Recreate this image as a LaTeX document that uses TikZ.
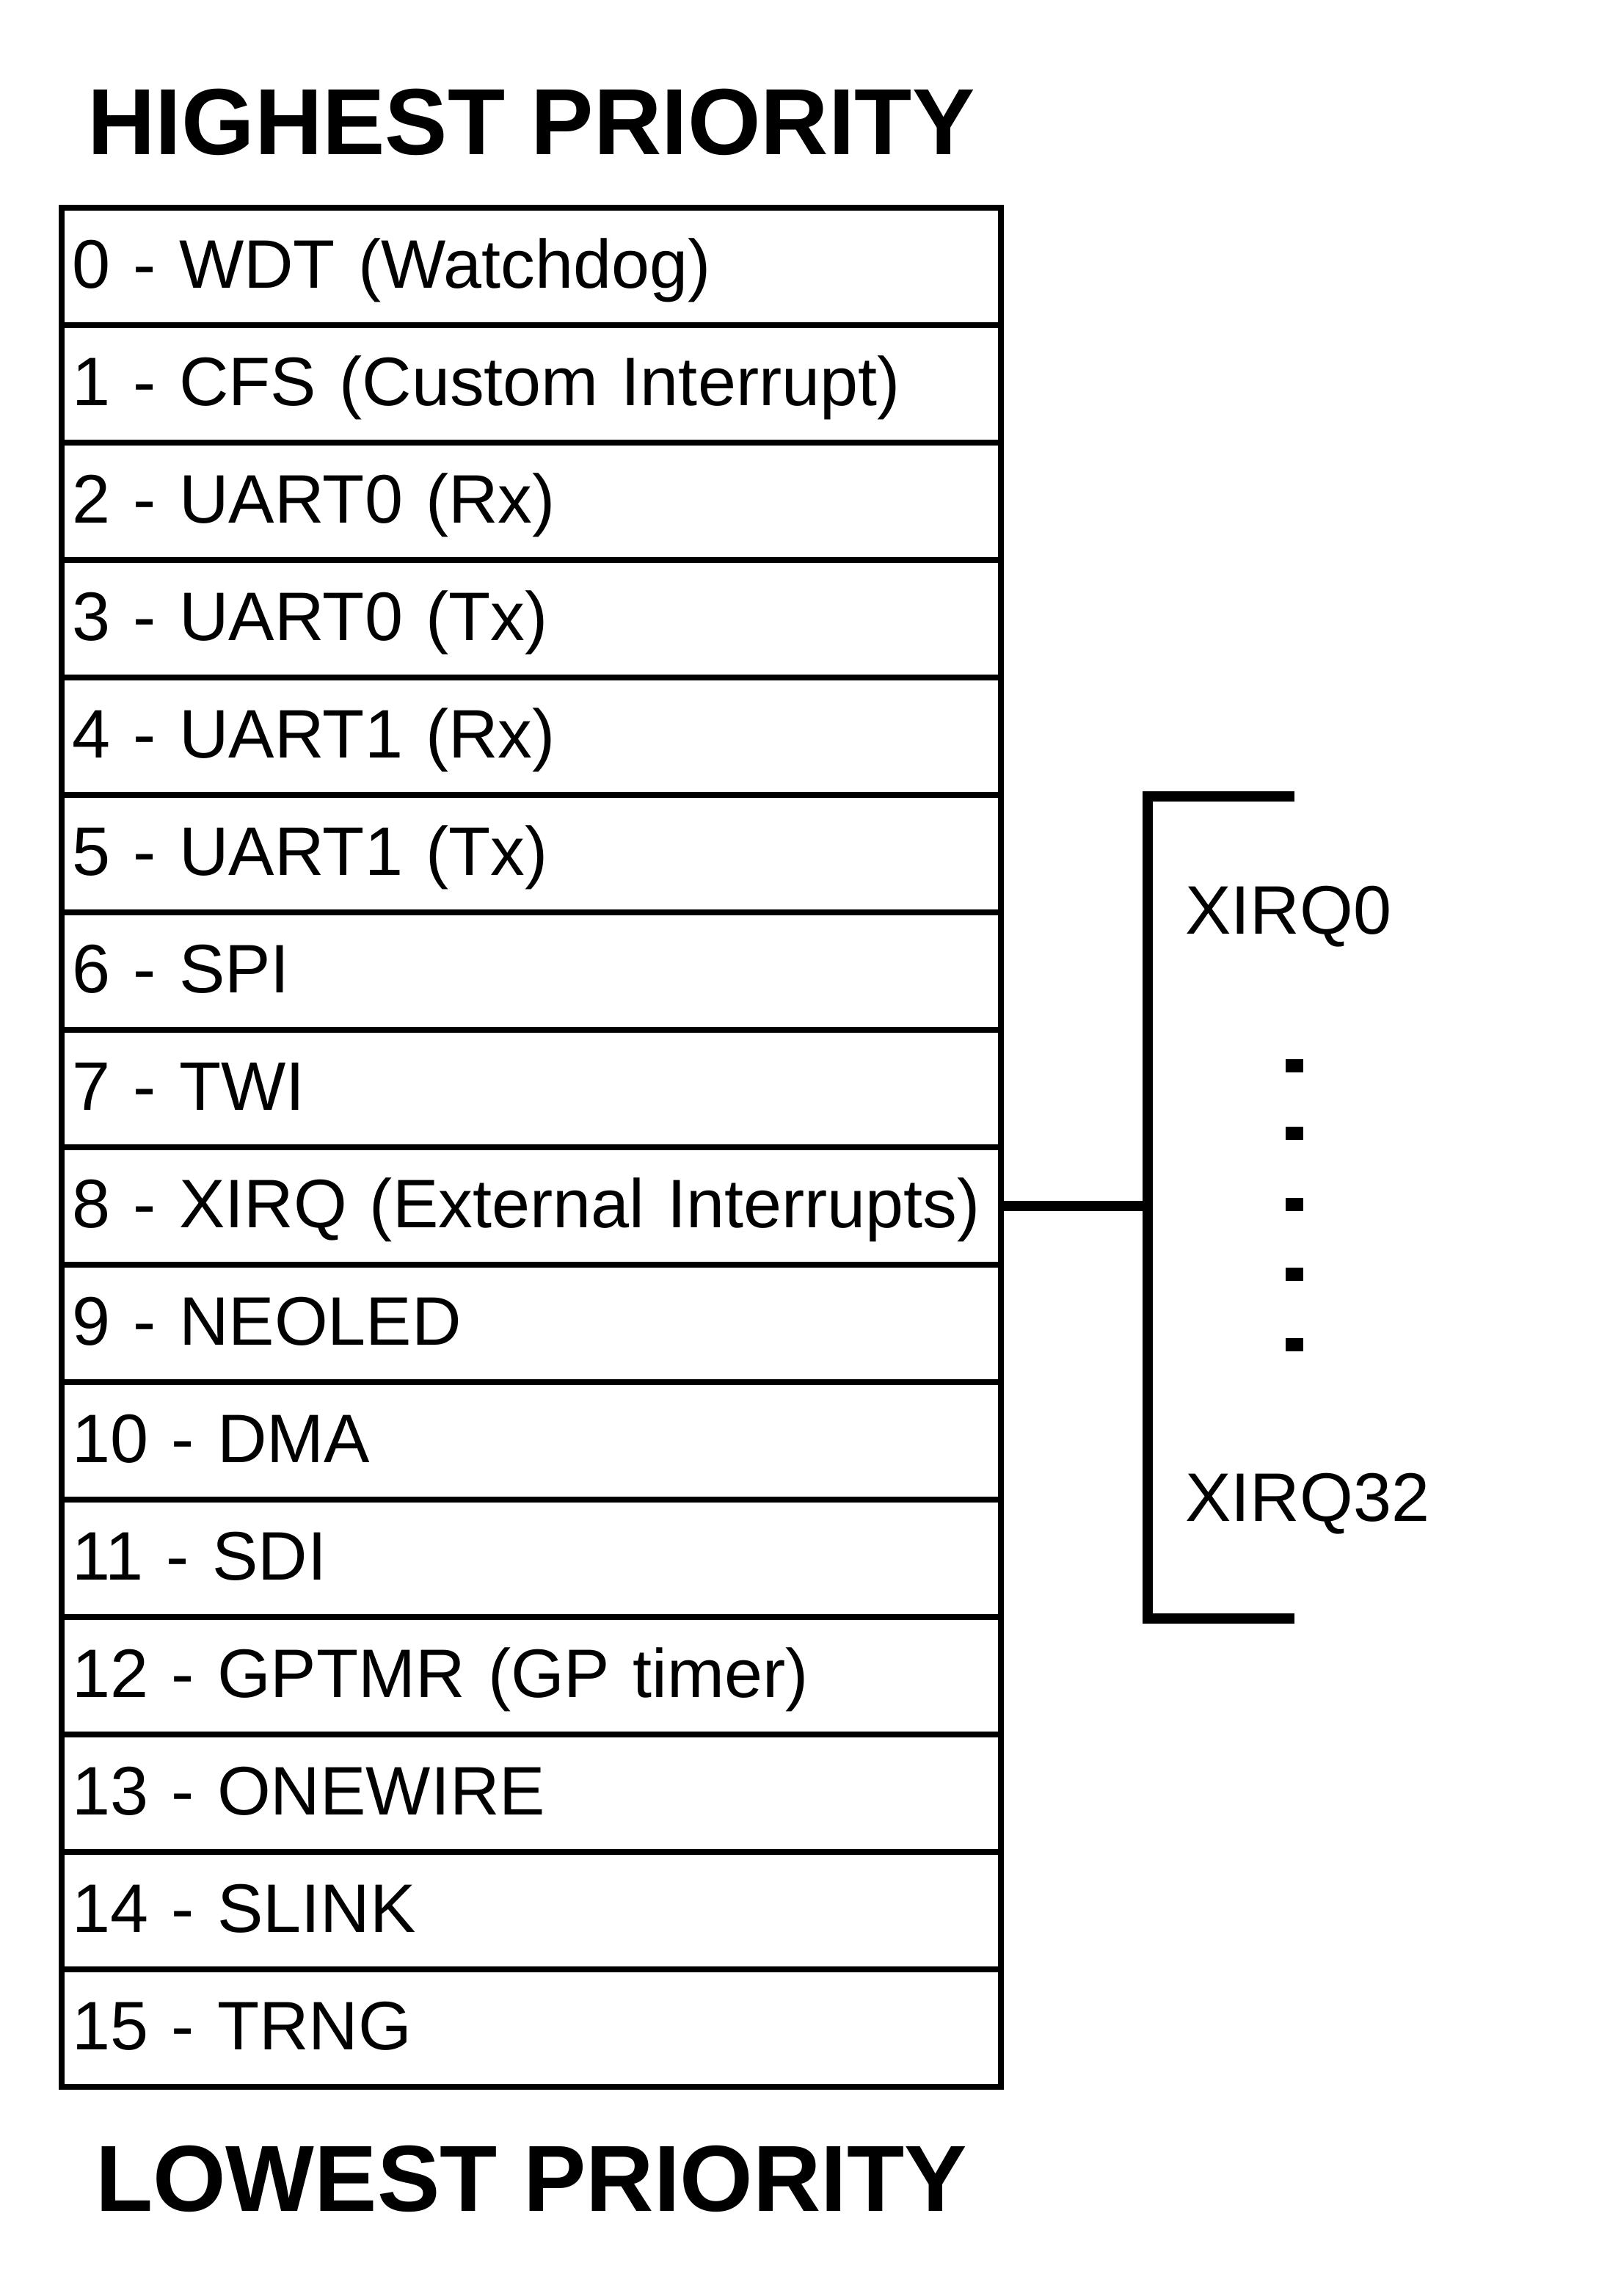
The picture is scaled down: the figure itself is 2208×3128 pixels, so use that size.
\documentclass[tikz,border=0pt]{standalone}
\usepackage{fontspec}
\setmainfont{Liberation Sans}
\begin{document}
\begin{tikzpicture}[x=0.01cm, y=-0.01cm,
  every node/.style={font=\fontsize{26.6}{30}\selectfont},
  rowbox/.style={draw, line width=2.3pt, rectangle, outer sep=0pt,
    minimum width=12.8cm, minimum height=1.6cm, inner xsep=0.15cm,
    text width=12.5cm, align=left, text height=0.72cm, text depth=0.14cm},
  bracket/.style={line width=4pt},
  title/.style={font=\fontsize{36.4}{40}\selectfont\bfseries, anchor=base}]
  \useasboundingbox (0,0) rectangle (2208,3128);
  \node[title] (high) at (724,211) {HIGHEST PRIORITY};
  \foreach \i/\txt in {0/{0 - WDT (Watchdog)}, 1/{1 - CFS (Custom Interrupt)},
      2/{2 - UART0 (Rx)}, 3/{3 - UART0 (Tx)}, 4/{4 - UART1 (Rx)},
      5/{5 - UART1 (Tx)}, 6/{6 - SPI}, 7/{7 - TWI},
      8/{8 - XIRQ (External Interrupts)}, 9/{9 - NEOLED}, 10/{10 - DMA},
      11/{11 - SDI}, 12/{12 - GPTMR (GP timer)}, 13/{13 - ONEWIRE},
      14/{14 - SLINK}, 15/{15 - TRNG}}
    \node[rowbox] (row\i) at (724,{363+160*\i}) {\mbox{\txt}};
  \node[title] (low) at (724,3012) {LOWEST PRIORITY};
  % external interrupt bracket
  \coordinate (brk) at (1564,1643);
  \draw[bracket] (row8.east) -- (brk);
  \draw[bracket] (1764,1085) -- (1564,1085) -- (1564,2205) -- (1764,2205);
  \node[anchor=base west] (xirq0) at (1603,1272) {XIRQ0};
  \node[anchor=base west] (xirq32) at (1603,2072) {XIRQ32};
  \foreach \y in {1452,1544,1641,1736,1832}
    \fill (1752,{\y-9}) rectangle (1776,{\y+9});
\end{tikzpicture}
\end{document}
